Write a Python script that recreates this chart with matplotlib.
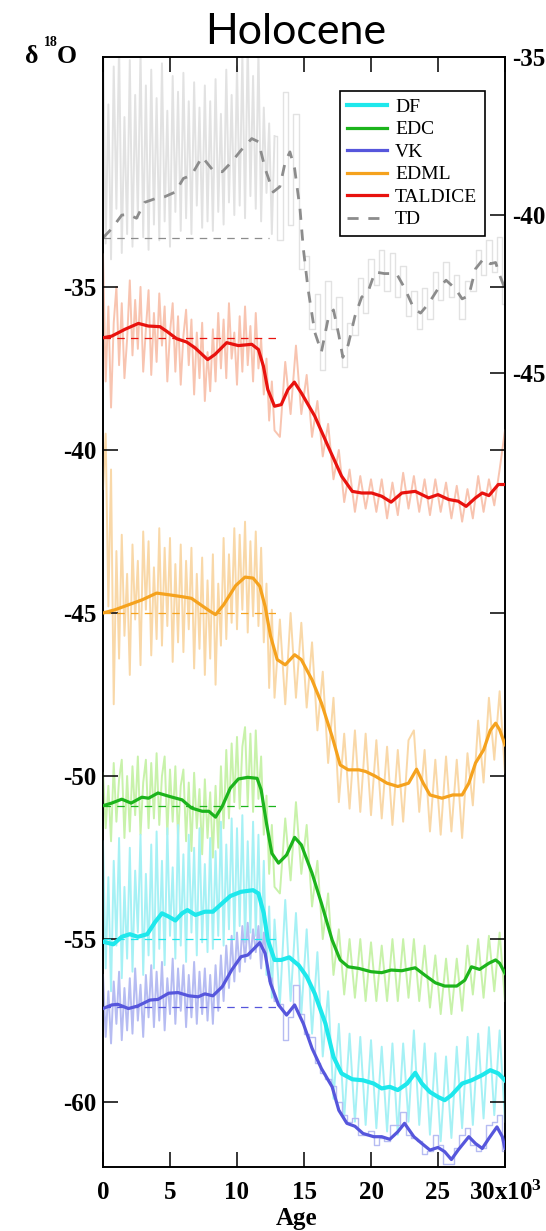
import numpy as np
import matplotlib
matplotlib.use('Agg')
import matplotlib.pyplot as plt

plt.rcParams['font.family'] = ['Liberation Serif', 'DejaVu Serif']
plt.rcParams['axes.unicode_minus'] = False
plt.rcParams['mathtext.fontset'] = 'custom'
plt.rcParams['mathtext.rm'] = 'Liberation Serif:bold'
plt.rcParams['mathtext.it'] = 'Liberation Serif:bold'
plt.rcParams['mathtext.bf'] = 'Liberation Serif:bold'

# ---- smoothed records (age in ka, d18O permil) ----
tal_age = [0, 0.65, 1.64, 2.64, 3.38, 4.25, 4.75, 5.5, 6.24, 6.87, 7.81, 8.36, 9.23, 10.1, 11.1, 11.6,
           11.97, 12.3, 12.8, 13.3, 13.8, 14.28, 14.8, 15.8, 16.8, 17.8, 18.6, 19.3, 20.05, 20.8, 21.5,
           22.3, 23.3, 24.3, 25.0, 25.8, 26.5, 27.1, 27.8, 28.3, 28.8, 29.5, 30]
tal_smooth = [-36.56, -36.51, -36.30, -36.12, -36.20, -36.22, -36.36, -36.59, -36.69, -36.87, -37.23,
              -37.07, -36.71, -36.80, -36.76, -36.92, -37.43, -38.15, -38.66, -38.61, -38.15, -37.92,
              -38.25, -38.96, -39.89, -40.80, -41.27, -41.32, -41.32, -41.42, -41.60, -41.32, -41.27,
              -41.47, -41.37, -41.52, -41.57, -41.73, -41.47, -41.32, -41.40, -41.06, -41.06]

edml_age = [0, 0.9, 1.9, 2.9, 4.0, 4.9, 5.9, 6.6, 7.4, 8.0, 8.4, 9.0, 9.9, 10.6, 11.2, 11.7, 12.1, 12.5,
            13.0, 13.6, 14.3, 14.8, 15.6, 16.3, 17.1, 17.7, 18.3, 19.1, 19.6, 20.3, 21.2, 22.0, 22.8,
            23.4, 23.9, 24.4, 25.3, 26.1, 26.8, 27.3, 27.8, 28.4, 28.9, 29.3, 29.6, 30]
edml_smooth = [-45.0, -44.9, -44.75, -44.6, -44.39, -44.44, -44.5, -44.55, -44.78, -44.95, -45.05,
               -44.75, -44.16, -43.90, -43.93, -44.18, -44.8, -45.7, -46.43, -46.59, -46.28, -46.43,
               -47.05, -47.76, -48.79, -49.66, -49.81, -49.81, -49.86, -50.0, -50.22, -50.32, -50.22,
               -49.79, -50.22, -50.58, -50.68, -50.58, -50.58, -50.22, -49.6, -49.2, -48.6, -48.38,
               -48.58, -49.04]

edc_age = [0, 0.65, 1.4, 2.1, 2.9, 3.4, 4.1, 5.0, 5.9, 6.6, 7.4, 7.9, 8.4, 8.9, 9.5, 10.1, 10.8, 11.5,
           11.8, 12.2, 12.6, 13.1, 13.7, 14.3, 14.8, 15.6, 16.3, 17.1, 17.7, 18.3, 19.1, 20.0, 20.8,
           21.5, 22.3, 23.3, 24.0, 24.8, 25.5, 26.4, 27.0, 27.5, 28.1, 28.8, 29.3, 29.6, 30]
edc_smooth = [-50.91, -50.83, -50.71, -50.83, -50.65, -50.68, -50.52, -50.63, -50.73, -50.98, -51.08,
              -51.08, -51.26, -50.93, -50.37, -50.09, -50.04, -50.07, -50.42, -51.45, -52.37, -52.67,
              -52.42, -51.88, -52.11, -52.98, -53.9, -55.03, -55.64, -55.85, -55.9, -56.0, -56.03,
              -55.95, -55.97, -55.88, -56.1, -56.34, -56.44, -56.44, -56.26, -55.85, -55.93, -55.74,
              -55.64, -55.74, -56.05]

df_age = [0, 0.77, 1.4, 2.0, 2.6, 3.3, 3.9, 4.4, 4.9, 5.4, 5.9, 6.3, 6.9, 7.6, 8.2, 8.9, 9.5, 10.3, 11.2,
          11.6, 12.0, 12.3, 12.8, 13.3, 13.9, 14.6, 15.2, 15.8, 16.6, 17.2, 17.8, 18.6, 19.4, 20.2,
          20.8, 21.4, 22.0, 22.7, 23.3, 23.8, 24.4, 25.0, 25.5, 26.0, 26.8, 27.5, 28.3, 28.9, 29.5, 30]
df_smooth = [-55.08, -55.16, -54.93, -54.85, -54.93, -54.85, -54.47, -54.21, -54.31, -54.43, -54.21,
             -54.11, -54.26, -54.16, -54.16, -53.9, -53.68, -53.55, -53.5, -53.6, -54.21, -55.03,
             -55.64, -55.64, -55.56, -55.8, -56.15, -56.67, -57.59, -58.61, -59.12, -59.3, -59.33,
             -59.43, -59.58, -59.53, -59.63, -59.43, -59.1, -59.43, -59.69, -59.84, -59.94, -59.79,
             -59.43, -59.33, -59.17, -59.02, -59.12, -59.33]

vk_age = [0, 0.65, 1.1, 1.9, 2.6, 3.5, 4.1, 4.9, 5.6, 6.4, 7.1, 7.6, 8.2, 8.9, 9.6, 10.3, 10.8, 11.3,
          11.7, 12.1, 12.5, 13.1, 13.7, 14.3, 14.95, 15.6, 16.3, 17.1, 17.6, 18.2, 18.8, 19.4, 20.2,
          20.8, 21.4, 22.0, 22.5, 23.2, 23.8, 24.4, 25.0, 25.5, 26.0, 26.5, 27.3, 27.8, 28.3, 28.8,
          29.4, 29.8, 30]
vk_smooth = [-57.13, -57.02, -57.0, -57.13, -57.05, -56.87, -56.85, -56.66, -56.64, -56.74, -56.77,
             -56.68, -56.74, -56.46, -55.95, -55.54, -55.49, -55.28, -55.11, -55.44, -56.36, -57.02,
             -57.33, -57.02, -57.59, -58.35, -58.97, -59.53, -60.25, -60.65, -60.74, -60.96, -61.06,
             -61.06, -61.14, -60.91, -60.65, -61.06, -61.27, -61.47, -61.39, -61.52, -61.76, -61.47,
             -61.06, -61.27, -61.42, -61.11, -60.76, -61.06, -61.42]

td_age = [0, 0.65, 1.4, 1.9, 2.5, 3.1, 3.9, 4.6, 5.4, 6.0, 6.6, 7.4, 8.2, 8.9, 9.6, 10.3, 11.1, 11.6,
          12.1, 12.7, 13.2, 13.6, 13.95, 14.3, 14.7, 14.95, 15.3, 15.8, 16.3, 16.8, 17.2, 17.6, 17.9,
          18.3, 18.8, 19.3, 19.8, 20.3, 21.0, 21.9, 22.5, 23.2, 23.7, 24.3, 25.0, 25.6, 26.3, 26.8,
          27.3, 27.8, 28.4, 28.9, 29.3, 29.6, 30]
td_smooth = [-40.72, -40.43, -40.0, -39.98, -40.1, -39.6, -39.48, -39.42, -39.27, -38.84, -38.74,
             -38.16, -38.58, -38.63, -38.32, -37.95, -37.58, -37.68, -38.53, -39.27, -39.1, -38.32,
             -38.0, -38.53, -39.8, -41.06, -42.33, -43.7, -44.33, -43.28, -43.0, -43.8, -44.5, -44.1,
             -43.2, -42.6, -42.4, -41.8, -41.85, -41.85, -42.3, -42.96, -43.1, -42.8, -42.33, -42.06,
             -42.33, -42.65, -42.55, -41.7, -41.38, -41.54, -41.5, -41.9, -42.33]

# ---- raw records: every 0.2 ka up to 12.8 ka, then every 0.4 ka to 30 ka ----
raw_age = np.concatenate([np.linspace(0, 12.8, 65), np.linspace(13.2, 30, 43)])
n_hol = 65

tal_raw = [-34.0, -37.9, -35.6, -38.7, -36.1, -35.0, -37.4, -35.5, -37.8, -36.6,
           -34.8, -37.1, -35.4, -36.9, -35.0, -37.6, -36.3, -35.1, -37.7, -35.8,
           -37.3, -35.2, -36.8, -35.6, -37.9, -36.4, -35.5, -37.6, -35.9, -38.0,
           -36.5, -35.7, -37.4, -36.0, -38.3, -36.4, -37.8, -36.1, -38.5, -37.0,
           -38.2, -36.3, -37.9, -35.8, -37.5, -36.0, -37.8, -35.5, -37.2, -36.4,
           -38.0, -35.9, -37.6, -35.6, -37.4, -36.2, -37.9, -35.8, -37.5, -36.6,
           -38.3, -37.2, -39.1, -37.9, -39.4,
           -39.6, -37.3, -38.9, -36.8, -38.9, -37.7, -39.6, -38.5, -40.2, -39.2,
           -40.9, -40.0, -41.6, -40.6, -41.9, -40.8, -41.8, -40.9, -41.9, -40.9,
           -42.1, -41.0, -42.0, -40.7, -41.8, -40.8, -41.9, -40.9, -42.0, -40.9,
           -41.9, -41.0, -42.1, -41.1, -42.2, -41.2, -42.1, -40.8, -41.9, -40.9,
           -41.7, -40.6, -39.4]
edml_raw = [-41.2, -39.5, -44.8, -40.6, -47.8, -43.1, -46.4, -42.6, -45.7, -43.8,
            -46.9, -42.9, -45.2, -43.4, -46.6, -42.5, -44.9, -42.8, -46.3, -43.6,
            -45.8, -42.4, -46.0, -43.0, -45.4, -42.7, -46.5, -43.5, -45.9, -42.9,
            -46.2, -43.4, -45.5, -43.0, -46.7, -43.8, -46.1, -43.3, -46.9, -44.0,
            -46.4, -43.2, -47.2, -44.1, -46.0, -42.7, -45.8, -43.2, -45.3, -42.4,
            -45.5, -42.6, -44.9, -42.2, -45.6, -42.8, -45.1, -42.5, -45.4, -43.0,
            -45.9, -44.1, -47.3, -44.9, -47.6,
            -45.2, -47.8, -45.0, -47.6, -45.3, -47.9, -45.9, -48.6, -46.8, -49.6,
            -47.6, -50.8, -48.7, -51.0, -48.6, -51.1, -48.7, -51.2, -48.9, -51.3,
            -49.1, -51.5, -49.2, -51.4, -48.9, -48.6, -51.1, -49.2, -51.7, -49.5,
            -51.8, -49.4, -51.7, -49.5, -51.9, -49.3, -50.9, -48.3, -50.2, -47.6,
            -49.5, -47.4, -49.9]
edc_raw = [-49.9, -51.6, -50.3, -52.0, -49.6, -51.4, -50.1, -49.5, -51.9, -50.0,
           -51.7, -49.7, -51.2, -49.4, -51.8, -50.2, -49.5, -51.6, -49.6, -51.3,
           -49.3, -51.5, -50.0, -49.4, -51.8, -49.8, -51.4, -49.7, -51.9, -50.3,
           -49.8, -52.0, -50.2, -52.3, -49.9, -51.6, -50.4, -52.4, -50.1, -51.9,
           -50.5, -52.5, -50.3, -52.2, -49.7, -51.6, -49.2, -51.3, -49.0, -50.8,
           -48.8, -51.0, -49.1, -48.5, -50.9, -48.7, -51.1, -48.6, -50.7, -49.4,
           -51.8, -50.6, -53.0, -51.5, -53.4,
           -53.6, -51.3, -53.2, -50.8, -53.0, -51.5, -54.0, -52.6, -55.0, -53.6,
           -56.1, -54.7, -56.7, -55.0, -56.8, -55.0, -56.9, -55.1, -56.9, -55.2,
           -56.9, -55.0, -56.9, -55.0, -56.8, -55.0, -56.9, -55.2, -57.1, -55.5,
           -57.3, -55.6, -57.3, -55.6, -57.2, -55.2, -56.7, -55.0, -56.8, -54.9,
           -56.6, -54.8, -56.9]
df_raw = [-52.0, -55.9, -53.1, -56.6, -52.6, -55.2, -51.9, -56.2, -53.4, -55.6,
          -52.2, -56.0, -52.9, -54.8, -51.8, -56.1, -53.0, -55.5, -52.1, -55.9,
          -51.7, -55.3, -52.6, -55.8, -51.6, -54.9, -52.8, -55.6, -51.5, -55.2,
          -52.4, -55.7, -51.8, -54.8, -52.2, -55.5, -51.6, -55.1, -52.7, -55.4,
          -51.9, -55.3, -52.3, -54.9, -51.4, -55.2, -52.1, -54.7, -51.3, -55.0,
          -51.6, -54.6, -51.2, -55.1, -52.0, -54.8, -51.4, -54.9, -51.8, -55.3,
          -52.6, -56.1, -54.0, -56.8, -54.4,
          -57.0, -53.8, -56.9, -54.2, -57.3, -54.7, -57.9, -55.4, -58.6, -56.6,
          -59.9, -57.6, -60.5, -57.9, -60.6, -58.0, -60.7, -58.1, -60.8, -58.3,
          -60.9, -58.2, -61.0, -58.2, -60.6, -57.8, -60.7, -58.2, -61.0, -58.5,
          -61.2, -58.6, -61.1, -58.3, -60.8, -58.0, -60.7, -57.9, -60.5, -57.7,
          -60.4, -57.8, -60.6]
vk_raw = [-56.1, -58.0, -56.6, -58.2, -56.3, -57.6, -56.0, -58.1, -56.5, -57.8,
          -56.2, -57.9, -55.9, -57.5, -56.4, -58.0, -56.1, -57.4, -55.8, -57.7,
          -56.0, -57.5, -55.7, -57.8, -56.2, -57.3, -55.6, -57.6, -55.9, -57.2,
          -55.8, -57.7, -56.1, -57.4, -55.7, -57.6, -56.0, -57.3, -55.9, -57.5,
          -56.1, -57.6, -55.8, -57.2, -55.5, -56.9, -55.2, -56.5, -54.9, -56.3,
          -54.8, -56.0, -54.6, -55.7, -54.5, -55.6, -54.7, -55.4, -54.6, -55.9,
          -54.8, -55.6, -56.3, -56.2, -56.9,
          -57.0, -58.1, -57.4, -56.4, -57.3, -57.9, -58.0, -58.8, -59.1, -59.3,
          -59.5, -60.0, -60.4, -60.6, -60.5, -61.0, -61.0, -60.9, -61.3, -61.1,
          -61.2, -60.7, -60.7, -60.3, -61.0, -61.1, -61.2, -61.6, -61.5, -61.0,
          -61.3, -61.9, -61.9, -61.4, -61.0, -60.8, -61.3, -61.5, -61.4, -60.7,
          -60.6, -60.4, -61.5]
td_raw = [-34.2, -40.9, -36.5, -41.4, -35.3, -39.8, -34.6, -41.2, -36.9, -40.6,
          -35.1, -41.0, -36.2, -40.1, -34.8, -40.7, -35.9, -41.1, -35.4, -40.3,
          -36.3, -40.8, -35.2, -40.2, -36.7, -41.0, -35.6, -39.9, -36.1, -40.5,
          -35.5, -40.1, -36.4, -40.6, -35.8, -39.7, -36.6, -40.4, -35.9, -40.2,
          -36.4, -40.5, -35.7, -39.9, -36.8, -40.3, -35.4, -39.6, -36.2, -40.0,
          -35.3, -39.7, -34.9, -40.1, -34.5, -39.4, -35.6, -39.8, -34.8, -40.2,
          -36.6, -39.3, -37.1, -40.6, -37.5,
          -40.8, -36.1, -40.3, -36.8, -41.7, -41.3, -43.6, -42.5, -44.9, -42.1,
          -43.6, -42.6, -44.8, -43.4, -43.8, -42.0, -43.1, -41.4, -42.2, -41.1,
          -42.4, -41.2, -42.6, -41.6, -43.2, -42.4, -43.6, -42.3, -43.3, -41.8,
          -42.7, -41.5, -42.6, -41.9, -43.3, -42.1, -42.4, -41.1, -41.9, -40.8,
          -41.8, -40.7, -42.8]

# Holocene means (dashed references)
tal_mean, edml_mean, edc_mean, df_mean, vk_mean, td_mean = -36.57, -45.0, -50.92, -55.0, -57.07, -40.71

fig = plt.figure(figsize=(5.46, 12.31), dpi=100)
ax = fig.add_axes([103 / 546, 1 - 1166.7 / 1231, 402 / 546, 1109.7 / 1231])
ax2 = ax.twinx()
ax.set_zorder(ax2.get_zorder() + 1)
ax.patch.set_visible(False)

raw_lw = 1.4

# TD on the right-hand axis (low-resolution part drawn as steps)
ax2.plot(raw_age[:n_hol], td_raw[:n_hol], color='#e2e2e2', lw=raw_lw)
ax2.plot(raw_age[n_hol - 1:], td_raw[n_hol - 1:], color='#e2e2e2', lw=1.0, drawstyle='steps-mid')
ax2.hlines(td_mean, 0, 12.4, colors='#8c8c8c', linestyles=(0, (6, 5)), lw=0.9)
td_line, = ax2.plot(td_age, td_smooth, color='#8c8c8c', lw=2.0, dashes=(4, 3.5), label='TD')

series = [
    ('TALDICE', tal_age, tal_smooth, tal_raw, tal_mean, '#e8120e', '#f8c4b0', 2.3, False),
    ('EDML', edml_age, edml_smooth, edml_raw, edml_mean, '#f5a21e', '#f9d8a8', 2.3, False),
    ('EDC', edc_age, edc_smooth, edc_raw, edc_mean, '#1cb41c', '#c8f2aa', 2.3, False),
    ('DF', df_age, df_smooth, df_raw, df_mean, '#1ee8ec', '#a6f1f5', 3.0, False),
    ('VK', vk_age, vk_smooth, vk_raw, vk_mean, '#5656dc', '#b6bcf2', 2.3, True),
]
for name, age, sm, raw, mean, col, rawcol, lw, steps in series:
    if steps:
        ax.plot(raw_age[:n_hol], raw[:n_hol], color=rawcol, lw=raw_lw, zorder=1)
        ax.plot(raw_age[n_hol - 1:], raw[n_hol - 1:], color=rawcol, lw=1.0, drawstyle='steps-mid', zorder=1)
    else:
        ax.plot(raw_age, raw, color=rawcol, lw=raw_lw, zorder=1)

lines = {}
for name, age, sm, raw, mean, col, rawcol, lw, steps in series:
    ax.hlines(mean, 0, 12.9, colors=col, linestyles=(0, (6, 5)), lw=0.9, zorder=2)
    lines[name], = ax.plot(age, sm, color=col, lw=lw, zorder=3, label=name)

ax.set_xlim(0, 30)
ax.set_ylim(-61.98, -27.95)
ax2.set_ylim(-70.1, -35)
ax.set_xticks([0, 5, 10, 15, 20, 25, 30])
ax.set_xticklabels(['0', '5', '10', '15', '20', '25', '30x10$^{3}$'])
ax.set_yticks([-60, -55, -50, -45, -40, -35])
ax2.set_yticks([-45, -40, -35])

ax.tick_params(axis='both', direction='in', length=11, width=1.1, top=True, right=True, labelsize=18)
ax.tick_params(axis='x', pad=10)
ax.tick_params(axis='y', pad=5)
ax2.tick_params(axis='y', direction='in', length=11, width=1.1, labelsize=18, pad=5)
for lab in ax.get_xticklabels() + ax.get_yticklabels() + ax2.get_yticklabels():
    lab.set_fontweight('bold')
for a in (ax, ax2):
    for sp in a.spines.values():
        sp.set_linewidth(1.2)

handles = [lines['DF'], lines['EDC'], lines['VK'], lines['EDML'], lines['TALDICE'], td_line]
leg = ax.legend(handles, [h.get_label() for h in handles], loc='upper left',
                bbox_to_anchor=(0.5896, 0.9694), prop={'size': 14}, frameon=True, fancybox=False,
                edgecolor='black', framealpha=1, borderpad=0.38, handlelength=2.05,
                handletextpad=0.4, labelspacing=0.25, borderaxespad=0)
leg.get_frame().set_linewidth(1.2)

fig.text(296 / 546, 1 - 44 / 1231, 'Holocene', family='Lato', fontsize=31, ha='center', va='baseline')
fig.text(25 / 546, 1 - 62.7 / 1231, 'δ', fontsize=18.5, weight='bold', va='baseline')
fig.text(44 / 546, 1 - 46 / 1231, '18', fontsize=10, weight='bold', va='baseline')
fig.text(57 / 546, 1 - 62.7 / 1231, 'O', fontsize=18.5, weight='bold', va='baseline')
fig.text(296.7 / 546, 1 - 1225 / 1231, 'Age', fontsize=18, weight='bold', ha='center', va='baseline')

fig.savefig('out.png', dpi=100)
